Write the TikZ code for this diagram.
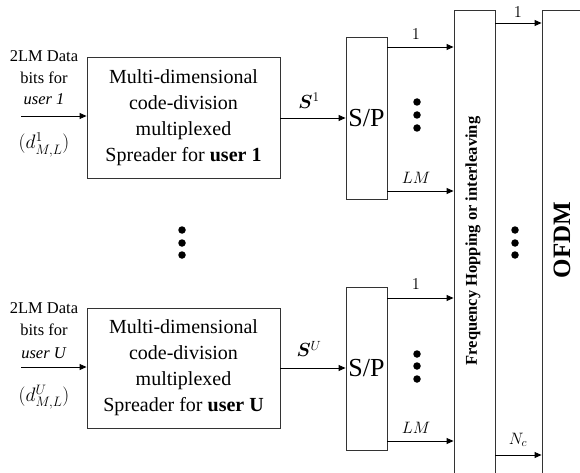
\RequirePackage{fix-cm}
\documentclass[tikz,border=0pt]{standalone}
\usepackage{amsmath}
\usepackage{bm}
\usepackage{fontspec}
\setmainfont{Liberation Serif}
\usetikzlibrary{arrows.meta}
\tikzset{
  blk/.style={draw=black!80, line width=0.9pt, rectangle, inner sep=0pt, align=center},
  arr/.style={line width=0.9pt, -{Triangle[length=7pt,width=6pt]}},
  dotc/.style={fill=black, circle, inner sep=0pt, minimum size=7.5pt},
  lbl/.style={inner sep=0pt, align=center},
  mlbl/.style={inner sep=0pt, font=\fontsize{16.5}{18}\selectfont},
}
\begin{document}
\begin{tikzpicture}[x=1pt,y=-1pt]
\useasboundingbox (0,0) rectangle (580,473);
\clip (0,0) rectangle (580,473);
% spreaders
\node[blk, minimum width=193pt, minimum height=121pt, font=\fontsize{20}{26}\selectfont] (b1) at (183.5,117.5)
  {Multi-dimensional\\code-division\\multiplexed\\Spreader for \textbf{user 1}};
\node[blk, minimum width=193pt, minimum height=120pt, font=\fontsize{20}{26}\selectfont] (bU) at (183.5,368)
  {Multi-dimensional\\code-division\\multiplexed\\Spreader for \textbf{user U}};
% S/P
\node[blk, minimum width=41pt, minimum height=162pt, font=\fontsize{26}{28}\selectfont] (sp1) at (366.5,118) {S/P};
\node[blk, minimum width=41pt, minimum height=163pt, font=\fontsize{26}{28}\selectfont] (spU) at (366.5,368.5) {S/P};
% frequency hopping
\node[blk, minimum width=41pt, minimum height=500pt] (fh) at (474.5,260) {};
\node[lbl, rotate=90, font=\fontsize{16.5}{18}\selectfont\bfseries] (fht) at (473,241) {Frequency Hopping or interleaving};
% OFDM
\node[blk, minimum width=60pt, minimum height=500pt] (ofdm) at (572,260) {};
\node[lbl, rotate=90, font=\fontsize{25}{28}\selectfont\bfseries] (ofdmt) at (562,240) {OFDM};
% inputs
\coordinate (in1) at (21,116);
\coordinate (inU) at (21,367);
\draw[arr] (in1) -- (b1.west |- in1);
\draw[arr] (inU) -- (bU.west |- inU);
\node[lbl, font=\fontsize{16.5}{21.5}\selectfont] (l1) at (44,78) {2LM Data\\bits for\\\textit{user 1}};
\node[lbl, font=\fontsize{19.5}{21}\selectfont] (d1) at (44,145) {$(d^{1}_{M,L})$};
\node[lbl, font=\fontsize{16.5}{22.5}\selectfont] (lU) at (44,330.5) {2LM Data\\bits for\\\textit{user U}};
\node[lbl, font=\fontsize{19.5}{21}\selectfont] (dU) at (44,397) {$(d^{U}_{M,L})$};
% spreader to S/P
\coordinate (s1) at (0,118);
\coordinate (sU) at (0,368);
\draw[arr] (b1.east |- s1) -- (sp1.west |- s1);
\draw[arr] (bU.east |- sU) -- (spU.west |- sU);
\node[lbl, font=\fontsize{19}{20}\selectfont] (S1) at (309,101) {$\bm{S}^{1}$};
\node[lbl, font=\fontsize{19}{20}\selectfont] (SU) at (309,349) {$\bm{S}^{U}$};
% S/P outputs
\coordinate (o11) at (0,47);
\coordinate (o1L) at (0,191);
\coordinate (oU1) at (0,298);
\coordinate (oUL) at (0,441);
\draw[arr] (sp1.east |- o11) -- (fh.west |- o11);
\draw[arr] (sp1.east |- o1L) -- (fh.west |- o1L);
\draw[arr] (spU.east |- oU1) -- (fh.west |- oU1);
\draw[arr] (spU.east |- oUL) -- (fh.west |- oUL);
\node[mlbl] (n11) at (416,34) {$1$};
\node[mlbl] (n1L) at (416,178) {$LM$};
\node[mlbl] (nU1) at (416,284) {$1$};
\node[mlbl] (nUL) at (416,428) {$LM$};
% FH outputs
\coordinate (f1) at (0,23);
\coordinate (fN) at (0,455);
\draw[arr] (fh.east |- f1) -- (ofdm.west |- f1);
\draw[arr] (fh.east |- fN) -- (ofdm.west |- fN);
\node[mlbl] (m1) at (518,12) {$1$};
\node[mlbl] (mN) at (518,440) {$N_c$};
% dots
\foreach \y [count=\i] in {230,243,255} {
  \node[dotc] (dl\i) at (182,\y) {};
  \node[dotc] (dm\i) at (515,\y) {};
}
\foreach \y [count=\i] in {102,115,128} {
  \node[dotc] (da\i) at (417,\y) {};
}
\foreach \y [count=\i] in {354,366,379} {
  \node[dotc] (db\i) at (417,\y) {};
}
\end{tikzpicture}
\end{document}
